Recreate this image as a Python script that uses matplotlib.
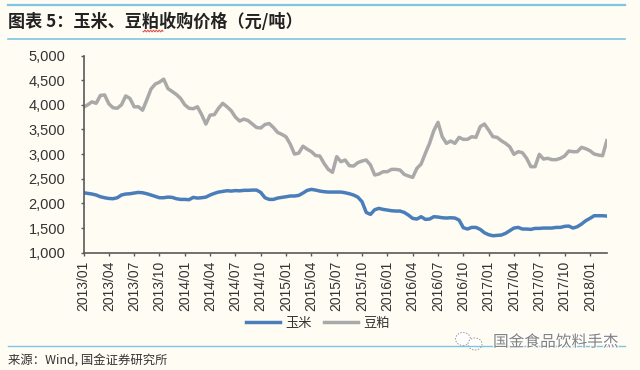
"""Prezzi di acquisto di mais e farina di soia, 2013/01 - 2018/03."""

import matplotlib
matplotlib.use("Agg")
import matplotlib.patheffects as pe
import matplotlib.pyplot as plt
import numpy as np
from matplotlib.lines import Line2D
from matplotlib.patches import Ellipse

# due letture al mese, dalla figura
corn = [2216, 2203, 2190, 2170, 2135, 2115, 2100, 2095, 2115, 2170, 2190, 2196, 2210, 2223, 2216,
        2196, 2170, 2142, 2115, 2115, 2128, 2122, 2095, 2081, 2081, 2075, 2122, 2108, 2115, 2128,
        2170, 2203, 2230, 2243, 2257, 2250, 2260, 2255, 2265, 2265, 2270, 2270, 2223, 2115, 2081,
        2081, 2108, 2122, 2135, 2150, 2150, 2162, 2210, 2264, 2284, 2270, 2250, 2237, 2230, 2230,
        2230, 2230, 2216, 2196, 2170, 2128, 2034, 1817, 1777, 1872, 1899, 1878, 1865, 1851, 1845,
        1845, 1817, 1763, 1696, 1682, 1730, 1676, 1682, 1730, 1723, 1709, 1703, 1709, 1703, 1662,
        1507, 1480, 1513, 1513, 1473, 1405, 1365, 1344, 1351, 1358, 1392, 1446, 1500, 1513, 1480,
        1480, 1473, 1493, 1493, 1500, 1500, 1500, 1513, 1513, 1534, 1540, 1500, 1527, 1581, 1648,
        1696, 1750, 1750, 1750, 1743]
meal = [3950, 4000, 4060, 4030, 4190, 4200, 4020, 3940, 3930, 4000, 4180, 4130, 3960, 3960, 3890,
        4100, 4320, 4420, 4460, 4520, 4330, 4270, 4210, 4130, 4000, 3930, 3920, 3960, 3800, 3610,
        3790, 3800, 3930, 4030, 3960, 3880, 3750, 3670, 3710, 3680, 3610, 3540, 3530, 3600, 3620,
        3540, 3440, 3400, 3350, 3200, 3000, 3020, 3160, 3100, 3050, 2970, 2961, 2812, 2690, 2630,
        2948, 2846, 2880, 2765, 2758, 2826, 2860, 2880, 2779, 2576, 2596, 2643, 2643, 2690, 2690,
        2677, 2589, 2555, 2528, 2711, 2799, 3015, 3218, 3475, 3644, 3353, 3218, 3265, 3218, 3340,
        3299, 3299, 3353, 3340, 3556, 3610, 3488, 3353, 3340, 3272, 3218, 3150, 2995, 3049, 3029,
        2914, 2745, 2745, 2995, 2900, 2914, 2887, 2887, 2914, 2961, 3062, 3049, 3049, 3137, 3110,
        3069, 3002, 2981, 2968, 3272]
tick_labels = ["2013/01", "2013/04", "2013/07", "2013/10", "2014/01", "2014/04", "2014/07",
               "2014/10", "2015/01", "2015/04", "2015/07", "2015/10", "2016/01", "2016/04",
               "2016/07", "2016/10", "2017/01", "2017/04", "2017/07", "2017/10", "2018/01"]
y_ticks = [1000, 1500, 2000, 2500, 3000, 3500, 4000, 4500, 5000]

BG = "#fffcf3"
RULE = "#7fc4e2"
AXIS = "#595959"
CJK = ["Noto Sans CJK SC", "DejaVu Sans"]
W, H = 640, 370

fig = plt.figure(figsize=(W / 100, H / 100), dpi=100, facecolor=BG)
ax = fig.add_axes([83.5 / W, 1 - 252.7 / H, 523.3 / W, 197.2 / H], facecolor=BG)

ax.plot(corn, color="#4a7ebb", lw=2.5, label="玉米", solid_joinstyle="round")
ax.plot(meal, color="#a9a9a9", lw=2.5, label="豆粕", solid_joinstyle="round")

ax.set_xlim(0, len(corn) - 1)
ax.set_ylim(1000, 5000)
ax.set_xticks(range(0, 6 * len(tick_labels), 6), tick_labels, rotation=90,
              family="Liberation Sans", fontsize=10, color="#333333")
ax.set_yticks(y_ticks, [f"{v:,}" for v in y_ticks], family="Liberation Sans", fontsize=10.5,
              color="#333333")
ax.tick_params(axis="x", length=2.5, width=1, color=AXIS, pad=3.5)
ax.tick_params(axis="y", length=2.5, width=1, color=AXIS, pad=10.5)
for side in ("top", "right"):
    ax.spines[side].set_visible(False)
for side in ("left", "bottom"):
    ax.spines[side].set_color(AXIS)
    ax.spines[side].set_linewidth(1.2)

ax.legend(loc="center", bbox_to_anchor=(0.448, (252.7 - 323) / 197.2), ncol=2, frameon=False,
          prop={"family": CJK, "size": 9.5, "weight": "light"}, handlelength=2.6, columnspacing=0.9,
          handletextpad=0.4, labelcolor="#333333")


def px(x, y):
    return x / W, 1 - y / H


# righe azzurre di testata e piede
for y, lw in ((5, 1.6), (38.5, 1.2), (345.7, 1.0)):
    x0, y0 = px(8, y)
    x1, _ = px(625, y)
    fig.add_artist(Line2D([x0, x1], [y0, y0], color=RULE, lw=lw))

fig.text(*px(8, 22), "图表 5：玉米、豆粕收购价格（元/吨）", family=CJK, fontsize=12.3, fontweight="bold",
         color="#222222", va="center")
fig.text(*px(8, 361), "来源：Wind, 国金证券研究所", family=CJK, fontsize=8.9, color="#333333", va="center")

# sottolineatura rossa del correttore sotto il titolo
sx = np.linspace(143, 163, 60)
sy = 31 + 0.9 * np.sin(sx * 2.2)
fig.add_artist(Line2D(sx / W, 1 - sy / H, color="#d9534f", lw=0.7))

# filigrana WeChat
for cx, cy, w, h in ((463, 339, 15, 13), (475, 344, 14, 12)):
    fig.add_artist(Ellipse(px(cx, cy), w / W, h / H, transform=fig.transFigure, facecolor="white",
                           edgecolor="#999999", lw=0.7, ls=(0, (1.5, 1.5))))
fig.text(*px(493, 342), "国金食品饮料手杰", family=CJK, fontsize=11.3, color="#808080", va="center",
         path_effects=[pe.withStroke(linewidth=1.5, foreground="white")])

fig.savefig("out.png", dpi=100, facecolor=BG)
plt.close(fig)
